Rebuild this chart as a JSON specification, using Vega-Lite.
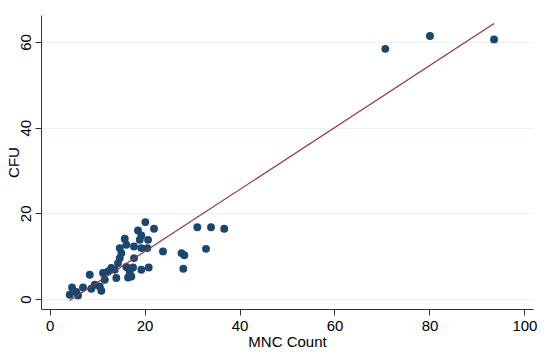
{
  "$schema": "https://vega.github.io/schema/vega-lite/v6.json",
  "width": 492,
  "height": 294,
  "autosize": {"type": "none"},
  "padding": {"left": 41, "top": 15, "right": 17, "bottom": 48},
  "background": "white",
  "config": {
    "view": {"stroke": null},
    "font": "Liberation Sans",
    "axis": {
      "labelFont": "Liberation Sans",
      "titleFont": "Liberation Sans",
      "labelFontSize": 15,
      "titleFontSize": 15,
      "titleFontWeight": "normal",
      "labelColor": "#000000",
      "titleColor": "#000000",
      "domainColor": "#333333",
      "tickColor": "#333333",
      "tickSize": 6,
      "gridColor": "#eaf2f3",
      "gridWidth": 1
    }
  },
  "datasets": {
    "pts": [
      {"mnc": 4.25, "cfu": 1.0}, {"mnc": 6.0, "cfu": 0.84}, {"mnc": 5.64, "cfu": 1.63},
      {"mnc": 4.74, "cfu": 2.7}, {"mnc": 7.05, "cfu": 2.7}, {"mnc": 8.8, "cfu": 2.4},
      {"mnc": 10.91, "cfu": 1.93}, {"mnc": 10.57, "cfu": 2.94}, {"mnc": 9.52, "cfu": 3.33},
      {"mnc": 11.62, "cfu": 4.5}, {"mnc": 8.46, "cfu": 5.66}, {"mnc": 11.26, "cfu": 6.06},
      {"mnc": 12.32, "cfu": 6.43}, {"mnc": 13.73, "cfu": 6.83}, {"mnc": 13.01, "cfu": 7.23},
      {"mnc": 14.06, "cfu": 4.9}, {"mnc": 14.42, "cfu": 8.39}, {"mnc": 14.78, "cfu": 9.56},
      {"mnc": 15.12, "cfu": 10.72}, {"mnc": 14.78, "cfu": 11.89}, {"mnc": 16.17, "cfu": 12.66},
      {"mnc": 15.83, "cfu": 14.06}, {"mnc": 17.79, "cfu": 12.26}, {"mnc": 17.79, "cfu": 9.56},
      {"mnc": 16.17, "cfu": 7.46}, {"mnc": 17.58, "cfu": 7.37}, {"mnc": 16.88, "cfu": 6.43},
      {"mnc": 16.53, "cfu": 5.03}, {"mnc": 17.22, "cfu": 5.27}, {"mnc": 19.33, "cfu": 6.83},
      {"mnc": 20.88, "cfu": 7.37}, {"mnc": 19.33, "cfu": 11.89}, {"mnc": 20.59, "cfu": 11.89},
      {"mnc": 20.74, "cfu": 13.82}, {"mnc": 18.99, "cfu": 13.82}, {"mnc": 19.33, "cfu": 14.83},
      {"mnc": 18.63, "cfu": 15.99}, {"mnc": 20.17, "cfu": 17.95}, {"mnc": 22.0, "cfu": 16.39},
      {"mnc": 23.89, "cfu": 11.1}, {"mnc": 27.79, "cfu": 10.72}, {"mnc": 28.38, "cfu": 10.21},
      {"mnc": 28.17, "cfu": 7.06}, {"mnc": 32.95, "cfu": 11.72}, {"mnc": 31.12, "cfu": 16.74},
      {"mnc": 34.0, "cfu": 16.74}, {"mnc": 36.78, "cfu": 16.39}, {"mnc": 70.7, "cfu": 58.4},
      {"mnc": 80.1, "cfu": 61.4}, {"mnc": 93.6, "cfu": 60.6}
    ],
    "fit": [
      {"mnc": 4.25, "cfu": -0.33},
      {"mnc": 93.6, "cfu": 64.3}
    ]
  },
  "layer": [
    {
      "data": {"name": "pts"},
      "mark": {"type": "circle", "size": 62, "color": "#1a476f", "opacity": 1},
      "encoding": {
        "x": {
          "field": "mnc", "type": "quantitative",
          "scale": {"domain": [-1.8, 101.8], "nice": false, "zero": false},
          "axis": {"title": "MNC Count", "values": [0, 20, 40, 60, 80, 100], "grid": false, "labelPadding": 3, "titlePadding": 1}
        },
        "y": {
          "field": "cfu", "type": "quantitative",
          "scale": {"domain": [-2.33, 66.3], "nice": false, "zero": false},
          "axis": {"title": "CFU", "values": [0, 20, 40, 60], "grid": true, "labelAngle": -90, "labelAlign": "center", "labelBaseline": "bottom", "labelPadding": 2, "titlePadding": -3}
        }
      }
    },
    {
      "data": {"name": "fit"},
      "mark": {"type": "line", "color": "#90353b", "strokeWidth": 1.2},
      "encoding": {
        "x": {"field": "mnc", "type": "quantitative"},
        "y": {"field": "cfu", "type": "quantitative"}
      }
    }
  ]
}
